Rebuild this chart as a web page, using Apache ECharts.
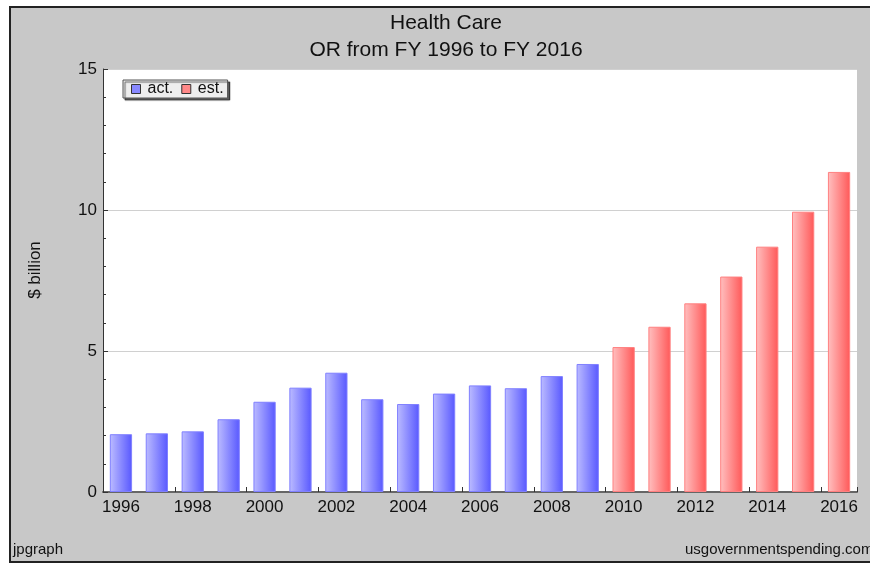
<!DOCTYPE html>
<html><head><meta charset="utf-8">
<script src="https://cdn.jsdelivr.net/npm/echarts@6/dist/echarts.min.js"></script>
<style>html,body{margin:0;padding:0;background:#fff}#c{width:870px;height:563px}</style>
</head><body><div id="c"></div>
<script>
const years = ['1996','1997','1998','1999','2000','2001','2002','2003','2004','2005','2006','2007','2008','2009','2010','2011','2012','2013','2014','2015','2016'];
const actual = [2.05,2.08,2.15,2.58,3.20,3.70,4.23,3.29,3.12,3.49,3.78,3.68,4.11,4.54,null,null,null,null,null,null,null];
const estimate = [null,null,null,null,null,null,null,null,null,null,null,null,null,null,5.14,5.86,6.69,7.64,8.70,9.94,11.35];
const yTicks = [0,5,10,15];

const font = 'Liberation Sans, Arial, sans-serif';
function grad(l, r){return new echarts.graphic.LinearGradient(0,0,1,0,[{offset:0,color:l},{offset:1,color:r}]);}
const chart = echarts.init(document.getElementById('c'), null, {renderer:'canvas'});
chart.setOption({
  backgroundColor:'#fff',
  animation:false,
  graphic:[
    {type:'rect', z:-10, shape:{x:10,y:7,width:880,height:555}, style:{fill:'#c8c8c8', stroke:'#222', lineWidth:2}},
    {type:'text', left:13, top:542, style:{text:'jpgraph', font:'15px '+font, fill:'#111'}},
    {type:'text', left:685, top:542, style:{text:'usgovernmentspending.com', font:'15px '+font, fill:'#111'}},
    {type:'text', x:35, y:270, rotation:Math.PI/2, style:{text:'$ billion', font:'17px '+font, fill:'#111', align:'center', verticalAlign:'middle'}}
  ],
  title:{
    text:'Health Care\nOR from FY 1996 to FY 2016',
    left:441, textAlign:'center', top:5,
    textStyle:{fontFamily:font, fontSize:21, fontWeight:'normal', color:'#111', lineHeight:27}
  },
  legend:{
    left:123, top:80, padding:[1,4,1,8], itemGap:8, itemWidth:9, itemHeight:9,
    backgroundColor:'#eeeeee', borderColor:'#555', borderWidth:1,
    shadowColor:'rgba(0,0,0,0.6)', shadowOffsetX:2, shadowOffsetY:2, shadowBlur:1,
    textStyle:{fontFamily:font, fontSize:16, color:'#111', padding:[0,0,0,2]},
    data:[
      {name:'act.', icon:'rect', itemStyle:{color:'#8888ff', borderColor:'#333', borderWidth:1}},
      {name:'est.', icon:'rect', itemStyle:{color:'#ff8888', borderColor:'#333', borderWidth:1}}
    ]
  },
  grid:{left:103, right:13, top:69, bottom:71, show:true, backgroundColor:'#fff', borderWidth:0},
  xAxis:{
    type:'category', data:years,
    axisLine:{lineStyle:{color:'#666', width:2}},
    axisTick:{show:true, inside:true, length:5, interval:1, lineStyle:{color:'#333'}},
    axisLabel:{interval:1, fontFamily:font, fontSize:17, color:'#111', margin:7}
  },
  yAxis:{
    type:'value', min:0, max:15, interval:5,
    axisLine:{show:true, lineStyle:{color:'#333', width:1}},
    axisTick:{show:true, inside:true, length:5, lineStyle:{color:'#333'}},
    minorTick:{show:true, splitNumber:5, length:3, lineStyle:{color:'#333'}},
    splitLine:{show:true, lineStyle:{color:'#d0d0d0', width:1}},
    axisLabel:{fontFamily:font, fontSize:17, color:'#111', margin:6,
      formatter:v=>yTicks.includes(v)?String(v):''}
  },
  series:[
    {name:'act.', type:'bar', data:actual, barCategoryGap:'38%', barGap:'-100%',
      itemStyle:{color:grad('#bcbcff','#5858ff'), borderColor:'#8080ff', borderWidth:1}},
    {name:'est.', type:'bar', data:estimate, barCategoryGap:'38%', barGap:'-100%',
      itemStyle:{color:grad('#ffc0c0','#ff5858'), borderColor:'#ff8080', borderWidth:1}}
  ]
});
</script></body></html>
